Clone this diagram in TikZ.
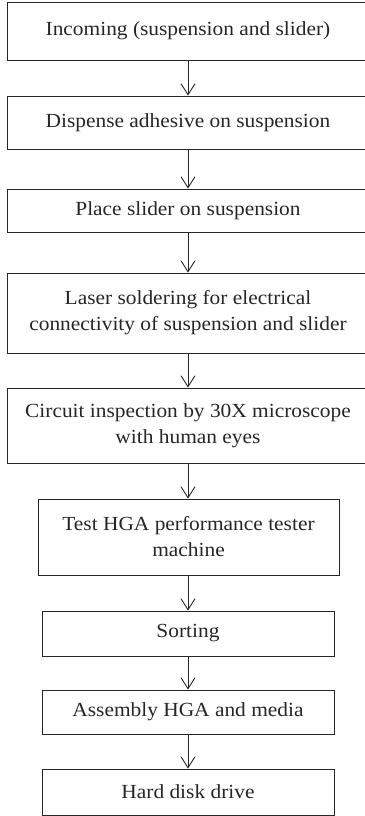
\documentclass[tikz,border=0pt]{standalone}
\usepackage{fontspec}
\setmainfont{Liberation Serif}[FakeStretch=1.07]
\usetikzlibrary{arrows.meta}
\definecolor{ink}{gray}{0.15}
\tikzset{
  box/.style={draw=ink, line width=0.9pt, text=ink, align=center, inner sep=0pt,
    font=\fontsize{20}{26}\selectfont},
  flow/.style={draw=ink, line width=0.9pt, -{Straight Barb[length=11pt,width=14pt,line width=0.9pt]}}
}
\begin{document}
\begin{tikzpicture}[x=1pt,y=-1pt]
\useasboundingbox (0,0) rectangle (364,816);
\node[box, minimum width=362pt, minimum height=58pt] (b1) at (188,31) {Incoming (suspension and slider)};
\node[box, minimum width=362pt, minimum height=53pt] (b2) at (188,122.5) {Dispense adhesive on suspension};
\node[box, minimum width=362pt, minimum height=43pt] (b3) at (188,210.5) {Place slider on suspension};
\node[box, minimum width=362pt, minimum height=80pt] (b4) at (188,313) {Laser soldering for electrical\\connectivity of suspension and slider};
\node[box, minimum width=362pt, minimum height=75pt] (b5) at (188,425.5) {Circuit inspection by 30X microscope\\with human eyes};
\node[box, minimum width=301pt, minimum height=76pt] (b6) at (188.5,537) {Test HGA performance tester\\machine};
\node[box, minimum width=292pt, minimum height=45pt] (b7) at (188,633.5) {Sorting};
\node[box, minimum width=292pt, minimum height=44pt] (b8) at (188,712) {Assembly HGA and media};
\node[box, minimum width=292pt, minimum height=46pt] (b9) at (188,792) {Hard disk drive};
\foreach \a/\b in {b1/b2,b2/b3,b3/b4,b4/b5,b5/b6,b6/b7,b7/b8,b8/b9}
  \draw[flow] (\a.south -| 188,0) -- (\b.north -| 188,0);
\end{tikzpicture}
\end{document}
